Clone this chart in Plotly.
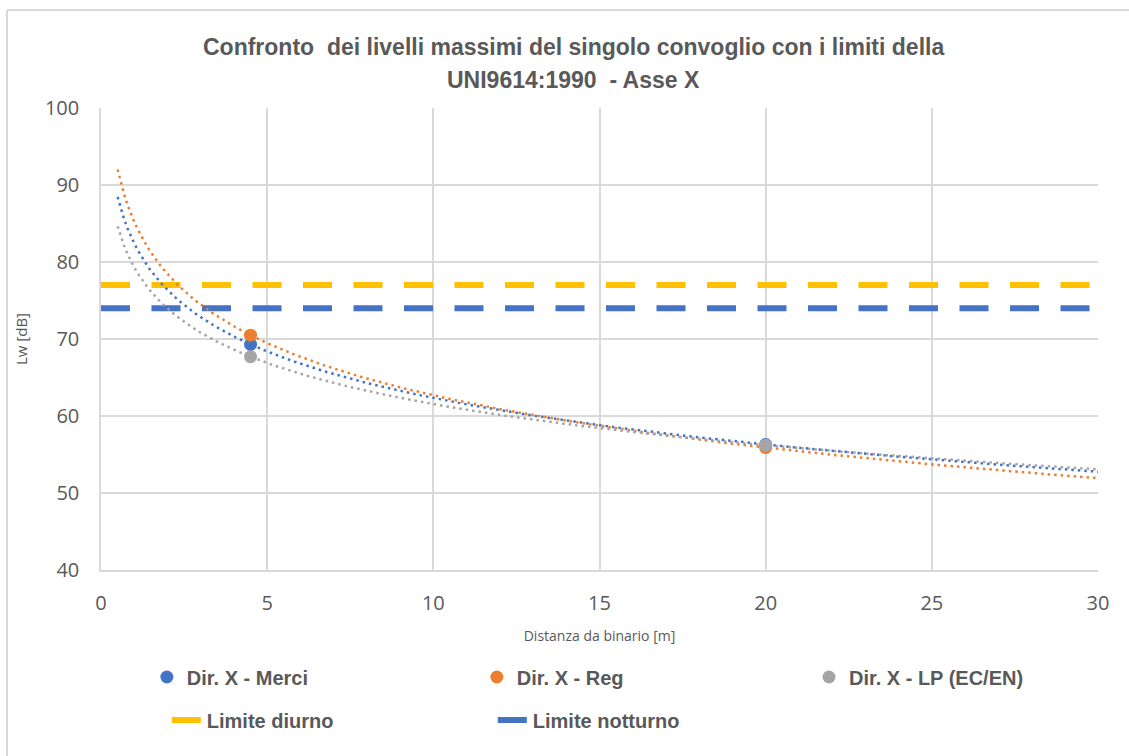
import numpy as np
import plotly.graph_objects as go

# ---- data ----
distances = [4.5, 20]
merci = [69.3, 56.3]
reg = [70.5, 55.9]
lp = [67.7, 56.2]
limite_diurno = 77
limite_notturno = 74
x_range = [0, 30]
trend_start = 0.5
trend_end = 30

series = [
    ("Dir. X - Merci", merci, "#4472C4", "legend"),
    ("Dir. X - Reg", reg, "#ED7D31", "legend"),
    ("Dir. X - LP (EC/EN)", lp, "#A5A5A5", "legend3"),
]

FONT = "Liberation Sans Narrow, Arial Narrow, Liberation Sans, sans-serif"
TICKFONT = "Open Sans, Noto Sans, sans-serif"
GRAY = "#595959"
GRID = "#D9D9D9"

fig = go.Figure()

# horizontal limits
fig.add_trace(go.Scatter(x=x_range, y=[limite_diurno] * 2, mode="lines", name="Limite diurno",
                         line=dict(color="#FFC000", width=6, dash="29px,21.5px"), legend="legend2"))
fig.add_trace(go.Scatter(x=x_range, y=[limite_notturno] * 2, mode="lines", name="Limite notturno",
                         line=dict(color="#4472C4", width=6, dash="29px,21.5px"), legend="legend2"))

# logarithmic trendlines (least squares fit on ln(x), like Excel)
xt = np.linspace(trend_start, trend_end, 300)
for name, ys, col, lg in series:
    a, b = np.polyfit(np.log(distances), ys, 1)
    fig.add_trace(go.Scatter(x=xt, y=a * np.log(xt) + b, mode="lines", showlegend=False,
                             line=dict(color=col, width=2.5, dash="2.5px,4px"), hoverinfo="skip"))

for name, ys, col, lg in series:
    fig.add_trace(go.Scatter(x=distances, y=ys, mode="markers", name=name,
                             marker=dict(color=col, size=13), legend=lg))

legfont = dict(family=FONT, size=20, color=GRAY, weight="bold")
fig.update_layout(
    width=1129, height=756,
    margin=dict(l=101, r=31, t=108, b=186),
    paper_bgcolor="white", plot_bgcolor="white",
    font=dict(family=FONT, color=GRAY),
    legend=dict(orientation="h", x=0.046, y=-0.2316, xanchor="left", yanchor="middle",
                entrywidth=285, entrywidthmode="pixels", traceorder="normal",
                font=legfont, itemclick=False),
    legend3=dict(orientation="h", x=(809 - 101) / 997, y=-0.2316, xanchor="left", yanchor="middle",
                 traceorder="normal", font=legfont, itemclick=False),
    legend2=dict(orientation="h", x=0.066, y=-0.3247, xanchor="left", yanchor="middle",
                 entrywidth=281, entrywidthmode="pixels", traceorder="normal",
                 font=legfont, itemclick=False),
    xaxis=dict(range=x_range, dtick=5, showgrid=True, gridcolor=GRID, gridwidth=1.5,
               showline=True, linecolor=GRID, linewidth=1.5, zeroline=False,
               ticks="outside", ticklen=14, tickcolor="rgba(0,0,0,0)",
               tickfont=dict(family=TICKFONT, size=20, color=GRAY),
               title=dict(text="Distanza da binario [m]", font=dict(family=TICKFONT, size=14, color=GRAY), standoff=16)),
    yaxis=dict(range=[40, 100], dtick=10, showgrid=True, gridcolor=GRID, gridwidth=1.5,
               showline=True, linecolor=GRID, linewidth=1.5, zeroline=False,
               ticks="outside", ticklen=16, tickcolor="rgba(0,0,0,0)",
               tickfont=dict(family=TICKFONT, size=20, color=GRAY),
               title=dict(text="Lw [dB]", font=dict(family=TICKFONT, size=15, color=GRAY), standoff=14)),
    annotations=[
        dict(text="Confronto  dei livelli massimi del singolo convoglio con i limiti della",
             xref="paper", yref="paper", x=0.474, y=(570 - 47) / 462, xanchor="center", yanchor="middle",
             showarrow=False, font=dict(family=FONT, size=23, color=GRAY, weight="bold")),
        dict(text="UNI9614:1990  - Asse X",
             xref="paper", yref="paper", x=0.474, y=(570 - 80) / 462, xanchor="center", yanchor="middle",
             showarrow=False, font=dict(family=FONT, size=23, color=GRAY, weight="bold")),
    ],
    shapes=[
        dict(type="line", xref="paper", yref="paper", x0=(7 - 101) / 997, x1=(1129 - 101) / 997,
             y0=(570 - 10) / 462, y1=(570 - 10) / 462, line=dict(color=GRID, width=2)),
        dict(type="line", xref="paper", yref="paper", x0=(7 - 101) / 997, x1=(7 - 101) / 997,
             y0=(570 - 10) / 462, y1=(570 - 760) / 462, line=dict(color=GRID, width=2)),
    ],
)

fig.write_html("out.html")
